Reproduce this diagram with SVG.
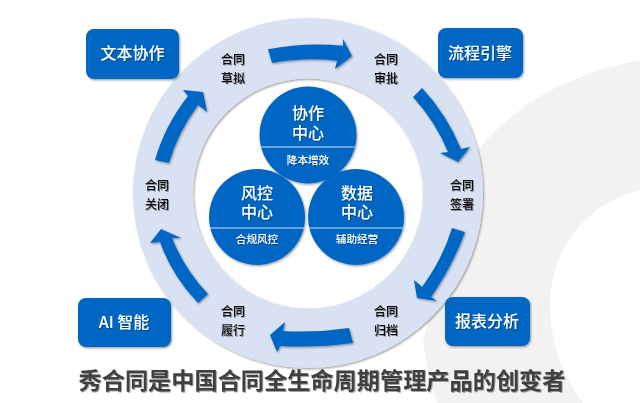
<svg xmlns="http://www.w3.org/2000/svg" width="640" height="403" viewBox="0 0 640 403">
<style>
text{font-family:"Noto Sans CJK SC","Noto Sans",sans-serif;text-anchor:middle}
.box{fill:#0366c4;filter:url(#s)}
.disc{fill:#0366c4;filter:url(#s)}
.arrow{fill:#0366c4;filter:url(#s)}
.div{stroke:#cfe0f5;stroke-width:1.2}
.b{font-size:16px;fill:#fff;font-weight:500;filter:url(#t)}
.c{font-size:16px;fill:#fff;font-weight:500;filter:url(#t)}
.d{font-size:10.6px;fill:#fff;font-weight:500;filter:url(#t)}
.n{font-size:12px;fill:#111;font-weight:500;filter:url(#t)}
.title{font-size:23.2px;font-weight:700;fill:#404040;filter:url(#t)}
</style>
<defs>
<filter id="s" x="-10%" y="-10%" width="125%" height="125%"><feDropShadow dx="1" dy="1.2" stdDeviation="1" flood-color="#000" flood-opacity="0.4"/></filter>
<filter id="t" x="-10%" y="-20%" width="125%" height="150%"><feDropShadow dx="0.9" dy="0.9" stdDeviation="0.7" flood-color="#000" flood-opacity="0.4"/></filter>
</defs>
<rect width="640" height="403" fill="#fff"/>
<path id="backdrop" fill="#f2f2f2" d="M640 60C565 75 515 105 478 150L423 340Q427 375 437 403H583C560 372 549 335 550 300C552 255 580 205 640 190Z"/>
<path id="ring" fill="#d9e2f3" fill-rule="evenodd" filter="url(#s)" d="M133 193a175 175 0 1 0 350 0a175 175 0 1 0 -350 0ZM193 193.500a115 115 0 1 1 230 0a115 115 0 1 1 -230 0Z"/>
<g id="connectors">
<path class="arrow" d="M268 49.300Q305 42 343 45.700L343 39L352 56L335 69L337 60.700Q305 57 272 63Z"/>
<path class="arrow" d="M422 88Q447 115 461 149L470 147L458 162L440 153L448 152Q435 121 413 97Z"/>
<path class="arrow" d="M465 232Q453 265 431 297L437 301L417 298L414 280L422 287Q443 258 452 228Z"/>
<path class="arrow" d="M349 328Q316 333 283 331L285 322L270 335L277 352L280 346Q316 348 353 343Z"/>
<path class="arrow" d="M208 294Q185 270 172 238L181 238L161 229L150 243L160 242Q172 276 198 303Z"/>
<path class="arrow" d="M155 160Q165 125 188 96L183 90L203 92L207 112L198 105Q178 132 169 163Z"/>
</g>
<g id="node-wenben"><rect class="box" x="86" y="29" width="93" height="50" rx="8"/><text class="b" x="132.500" y="59">文本协作</text></g>
<g id="node-liucheng"><rect class="box" x="438" y="28" width="85" height="50" rx="8"/><text class="b" x="480" y="59">流程引擎</text></g>
<g id="node-ai"><rect class="box" x="78" y="298" width="93" height="49" rx="8"/><text class="b" x="124" y="328">AI 智能</text></g>
<g id="node-baobiao"><rect class="box" x="445" y="297" width="85" height="49" rx="8"/><text class="b" x="487" y="327">报表分析</text></g>
<g id="node-xiezuo"><circle class="disc" cx="308" cy="135" r="48.500"/><line class="div" x1="261" y1="147" x2="355" y2="147"/><text class="c" x="308" y="119">协作</text><text class="c" x="308" y="139">中心</text><text class="d" x="308" y="164">降本增效</text></g>
<g id="node-fengkong"><circle class="disc" cx="257" cy="217" r="48"/><line class="div" x1="210" y1="228" x2="304" y2="228"/><text class="c" x="257" y="199">风控</text><text class="c" x="257" y="218">中心</text><text class="d" x="257" y="243">合规风控</text></g>
<g id="node-shuju"><circle class="disc" cx="356" cy="217" r="48"/><line class="div" x1="309" y1="228" x2="403" y2="228"/><text class="c" x="357" y="199">数据</text><text class="c" x="357" y="218">中心</text><text class="d" x="357" y="243">辅助经营</text></g>
<g id="node-caoni"><text class="n" x="233" y="63.500">合同</text><text class="n" x="233" y="82.500">草拟</text></g>
<g id="node-shenpi"><text class="n" x="386" y="63.500">合同</text><text class="n" x="386" y="82.500">审批</text></g>
<g id="node-qianshu"><text class="n" x="462" y="189.500">合同</text><text class="n" x="462" y="208.500">签署</text></g>
<g id="node-guanbi"><text class="n" x="157" y="189.500">合同</text><text class="n" x="157" y="208.500">关闭</text></g>
<g id="node-lvxing"><text class="n" x="233" y="315.500">合同</text><text class="n" x="233" y="334.500">履行</text></g>
<g id="node-guidang"><text class="n" x="386" y="315.500">合同</text><text class="n" x="386" y="334.500">归档</text></g>
<text class="title" x="322" y="388.500">秀合同是中国合同全生命周期管理产品的创变者</text>
</svg>
